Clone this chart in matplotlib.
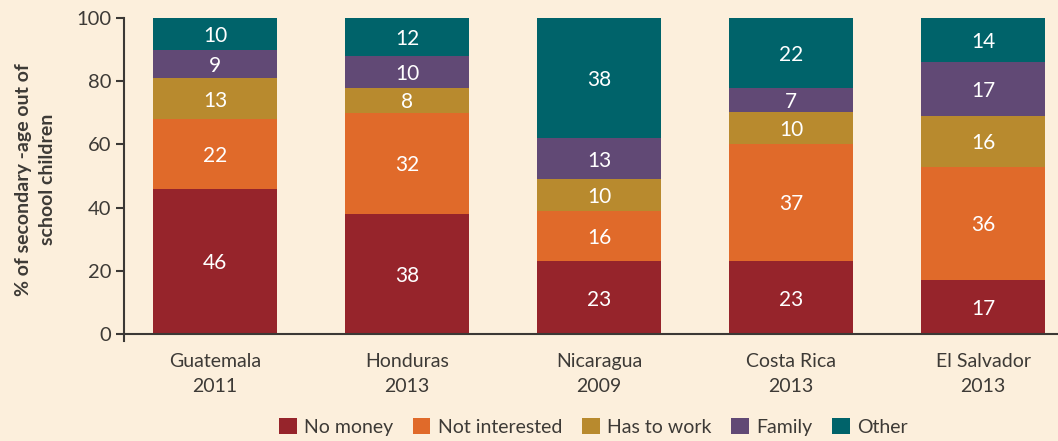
import numpy as np
import matplotlib.pyplot as plt
from matplotlib.patches import Patch

plt.rcParams['font.family'] = ['Lato', 'DejaVu Sans']

# data
countries = ['Guatemala\n2011', 'Honduras\n2013', 'Nicaragua\n2009', 'Costa Rica\n2013', 'El Salvador\n2013']
no_money = [46, 38, 23, 23.1, 17]
not_interested = [22, 32, 16, 37.1, 36]
has_to_work = [13, 8, 10, 10.2, 16]
family = [9, 10, 13, 7.4, 17]
other = [10, 12, 38, 22.2, 14]

series = [
    ('No money', no_money, '#96242b'),
    ('Not interested', not_interested, '#e06a2a'),
    ('Has to work', has_to_work, '#b88a2e'),
    ('Family', family, '#614975'),
    ('Other', other, '#00636a'),
]

bg = '#fcefdc'
txt = '#3d3a36'

fig = plt.figure(figsize=(10.58, 4.41), dpi=100, facecolor=bg)
ax = fig.add_axes([0.1172, 0.2268, 0.8828, 0.7324])
ax.set_facecolor(bg)

x = np.arange(len(countries))
bottom = np.zeros(len(countries))
for name, vals, col in series:
    vals = np.array(vals, dtype=float)
    ax.bar(x, vals, 0.646, bottom=bottom, color=col, label=name)
    for xi, b, v in zip(x, bottom, vals):
        ax.text(xi, b + v / 2, f'{v:.0f}', ha='center', va='center_baseline',
                color='white', fontsize=15)
    bottom += vals

ax.set_xlim(-0.474, 4.39)
ax.set_ylim(-2.2, 100)
ax.set_yticks([0, 20, 40, 60, 80, 100])
ax.spines['bottom'].set_position(('data', 0))
for s in ['top', 'right']:
    ax.spines[s].set_visible(False)
for s in ['left', 'bottom']:
    ax.spines[s].set_color('#3b3835')
    ax.spines[s].set_linewidth(1.5)
ax.set_xticks(x)
ax.set_xticklabels(countries, fontsize=14, color=txt, linespacing=1.55)
ax.tick_params(axis='x', length=0, pad=14)
ax.tick_params(axis='y', length=6, width=1.5, color='#3b3835', labelsize=14.5,
               labelcolor=txt, pad=3)

ax.set_ylabel('% of secondary -age out of\nschool children', fontsize=14,
              fontweight='bold', color=txt, labelpad=15, linespacing=1.45)

handles = [Patch(facecolor=c, label=n) for n, _, c in series]
fig.legend(handles=handles, loc='center', bbox_to_anchor=(0.561, 0.032), ncol=5,
           frameon=False, fontsize=14, handlelength=0.9, handleheight=0.9,
           handletextpad=0.4, columnspacing=1.0, labelcolor=txt)

fig.savefig('out.png', dpi=100, facecolor=bg)
